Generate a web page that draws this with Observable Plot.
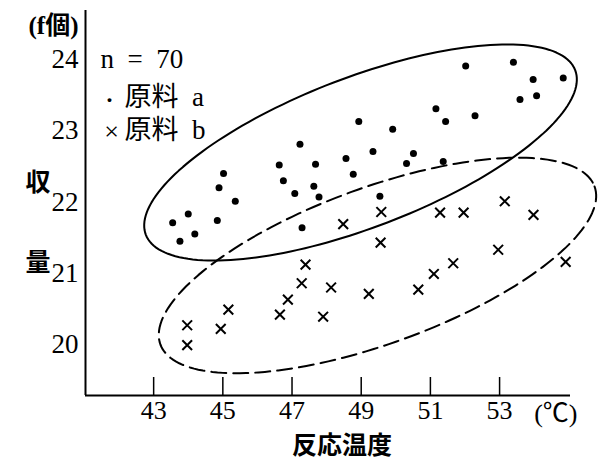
<!DOCTYPE html>
<html>
<head>
<meta charset="utf-8">
<script src="https://cdn.jsdelivr.net/npm/d3@7"></script>
<script src="https://cdn.jsdelivr.net/npm/@observablehq/plot@0.6"></script>
<style>
  html, body { margin: 0; padding: 0; background: #fff; }
</style>
</head>
<body>
<div id="chart"></div>
<script>
// 原料 a (dots)
const aX = [43.55, 44.00, 44.19, 43.76, 44.84, 45.36, 44.89, 45.02, 47.23, 46.63, 46.75, 47.08,
            47.68, 47.63, 47.78, 48.56, 48.77, 47.29, 48.93, 49.91, 49.34, 49.54, 52.02, 53.40,
            53.97, 54.84, 53.59, 54.07, 51.16, 51.44, 52.29, 50.51, 50.31, 51.37];
const aY = [21.71, 21.83, 21.55, 21.45, 21.74, 22.01, 22.20, 22.40, 22.81, 22.52, 22.30, 22.12,
            22.53, 22.22, 22.07, 22.61, 22.39, 21.64, 23.13, 23.02, 22.71, 22.08, 23.91, 23.96,
            23.72, 23.74, 23.44, 23.49, 23.31, 23.13, 23.21, 22.68, 22.54, 22.57];
// 原料 b (crosses)
const bX = [43.97, 43.97, 45.16, 44.94, 47.39, 47.28, 48.13, 46.88, 46.65, 47.90, 49.58, 48.48,
            49.56, 51.28, 51.96, 53.15, 53.98, 52.96, 51.66, 51.10, 50.65, 49.22, 54.91];
const bY = [20.27, 19.99, 20.49, 20.22, 21.12, 20.86, 20.80, 20.63, 20.42, 20.39, 21.86, 21.69,
            21.43, 21.85, 21.85, 22.01, 21.82, 21.33, 21.14, 20.99, 20.77, 20.71, 21.16];

const xTicks = [43, 45, 47, 49, 51, 53];
const yTicks = [20, 21, 22, 23, 24];
const xDomain = [41.03, 55.05];
const yDomain = [19.284, 24.688];

// ellipses: [centerX, centerY, major vector x, major vector y, minor vector x, minor vector y] in data units
const ellipseSolid = [48.98, 22.695, 6.205, 1.156, 0.777, -0.982];
const ellipseDashed = [49.47, 21.109, 6.275, 1.109, 0.772, -1.029];

const legendLines = ["n = 70", "原料 a", "原料 b"];
const titles = {y: "収\n量", x: "反応温度", unitX: "(℃)", unitY: "(f個)"};

const dataA = aX.map((x, i) => ({x, y: aY[i]}));
const dataB = bX.map((x, i) => ({x, y: bY[i]}));

function ellipsePts(e) {
  const [cx, cy, ux, uy, vx, vy] = e;
  return d3.range(0, 361, 2).map(deg => {
    const t = deg * Math.PI / 180;
    return {x: cx + Math.cos(t) * ux + Math.sin(t) * vx, y: cy + Math.cos(t) * uy + Math.sin(t) * vy};
  });
}

const serif = "'Liberation Serif', 'Noto Sans CJK JP', serif";
const cjk = "'Noto Sans CJK JP', sans-serif";
const frameH = 465 - 10 - 70;

const chart = Plot.plot({
  width: 600,
  height: 465,
  marginLeft: 85,
  marginRight: 30,
  marginTop: 10,
  marginBottom: 70,
  style: {background: "white", color: "black"},
  x: {domain: xDomain, ticks: xTicks},
  y: {domain: yDomain, ticks: yTicks},
  marks: [
    Plot.line(ellipsePts(ellipseSolid), {x: "x", y: "y", stroke: "black", strokeWidth: 2}),
    Plot.line(ellipsePts(ellipseDashed), {x: "x", y: "y", stroke: "black", strokeWidth: 2, strokeDasharray: "15,7"}),
    Plot.dot(dataA, {x: "x", y: "y", r: 3.5, fill: "black"}),
    Plot.dot(dataB, {x: "x", y: "y", symbol: "times", r: 4.5, stroke: "black", strokeWidth: 2}),
    Plot.ruleX([xDomain[0]], {strokeWidth: 2}),
    Plot.ruleY([yDomain[0]], {strokeWidth: 2}),
    Plot.tickX(xTicks, {x: d => d, insetTop: frameH - 18, strokeWidth: 1.5}),
    Plot.axisX(xTicks, {tickSize: 0, tickPadding: 5, tickFormat: d => String(d), fontSize: 26, fontFamily: serif, label: null}),
    Plot.axisY(yTicks, {tickSize: 0, tickPadding: 7, tickFormat: d => String(d), fontSize: 27, fontFamily: serif, label: null}),
    Plot.text([titles.unitX], {frameAnchor: "bottom-right", dx: 7, dy: 18, textAnchor: "end", lineAnchor: "middle", fontSize: 26, fontFamily: serif}),
    Plot.text([titles.unitY], {frameAnchor: "top-left", dx: -7, dy: 15, textAnchor: "end", lineAnchor: "middle", fontSize: 25, fontFamily: serif, fontWeight: "bold"}),
    Plot.text([titles.x], {frameAnchor: "bottom", dx: 14, dy: 50, lineAnchor: "middle", fontSize: 25, fontFamily: cjk, fontWeight: "bold"}),
    Plot.text([titles.y], {frameAnchor: "left", dx: -60, dy: 2, lineAnchor: "middle", lineHeight: 3.2, fontSize: 25, fontFamily: cjk, fontWeight: "bold"}),
    Plot.text([legendLines[0].replace(/ /g, "\u00a0\u00a0")], {frameAnchor: "top-left", dx: 15, dy: 49, textAnchor: "start", lineAnchor: "middle", fontSize: 27, fontFamily: serif}),
    Plot.text(["·"], {frameAnchor: "top-left", dx: 24, dy: 90, textAnchor: "middle", lineAnchor: "middle", fontSize: 24, fontFamily: serif, fontWeight: "bold"}),
    Plot.text(["×"], {frameAnchor: "top-left", dx: 26, dy: 121, textAnchor: "middle", lineAnchor: "middle", fontSize: 26, fontFamily: serif}),
    Plot.text([legendLines[1].replace(" ", "\u00a0\u00a0")], {frameAnchor: "top-left", dx: 39, dy: 87, textAnchor: "start", lineAnchor: "middle", fontSize: 27, fontFamily: serif}),
    Plot.text([legendLines[2].replace(" ", "\u00a0\u00a0")], {frameAnchor: "top-left", dx: 39, dy: 120, textAnchor: "start", lineAnchor: "middle", fontSize: 27, fontFamily: serif})
  ]
});
document.getElementById("chart").appendChild(chart);
</script>
</body>
</html>
